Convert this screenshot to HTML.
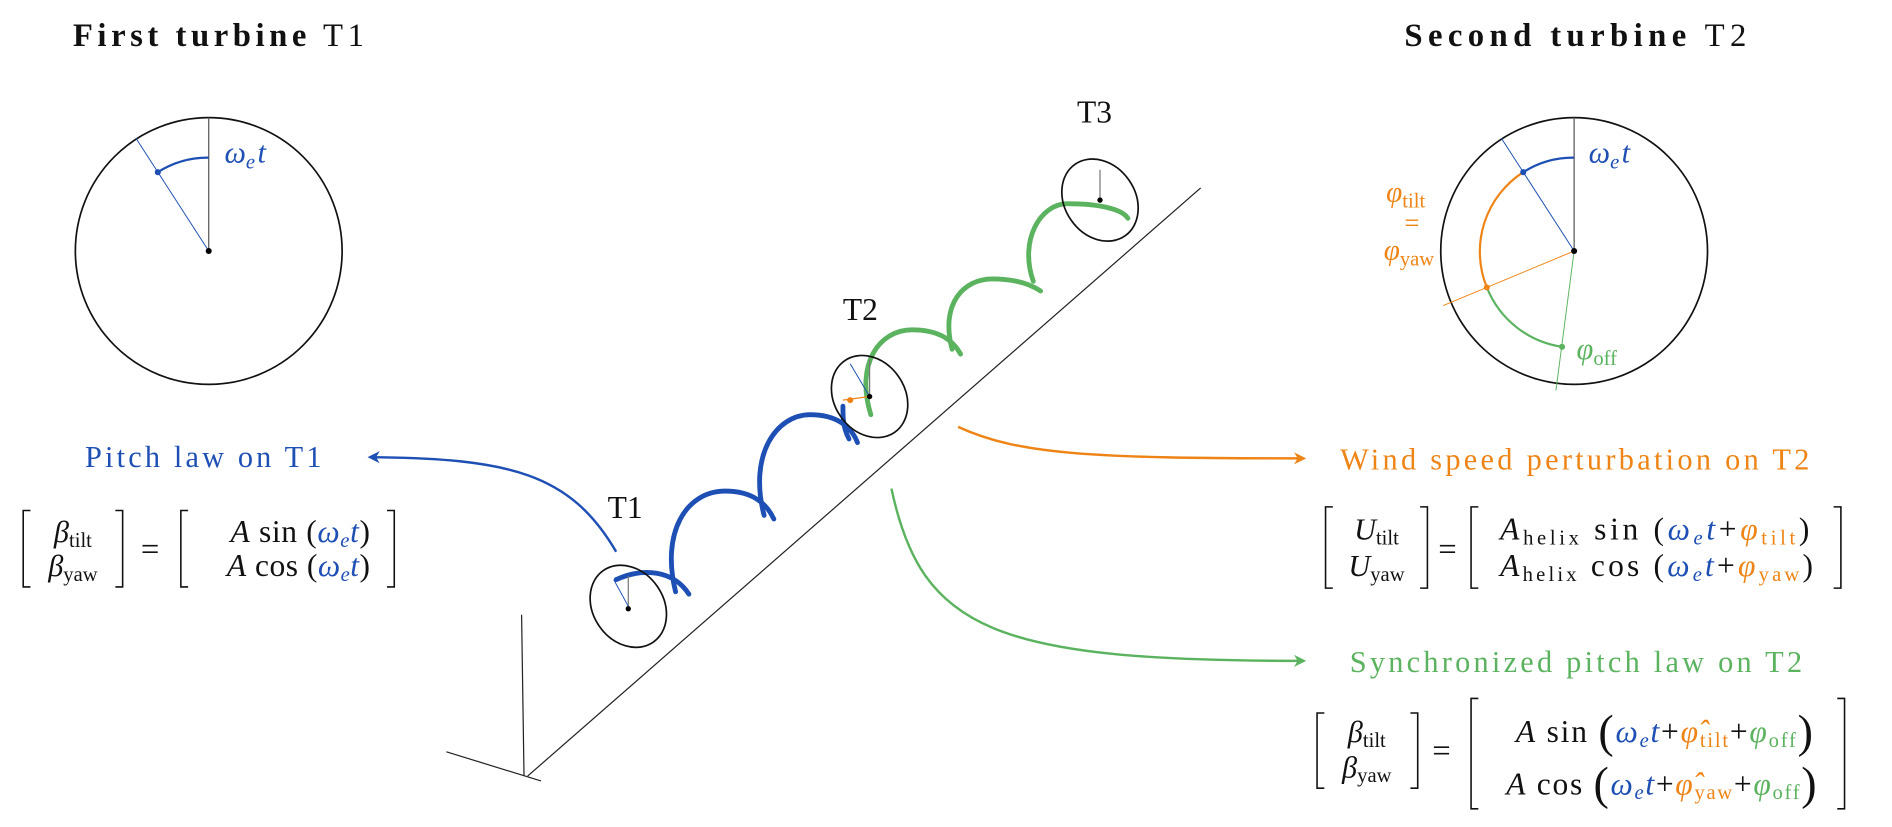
<!DOCTYPE html>
<html><head><meta charset="utf-8"><style>
html,body{margin:0;padding:0;background:#fff;}
svg{display:block;}
text{font-family:"Liberation Serif",serif;}
.b{fill:#1e4fb4}.o{fill:#ef8416}.g{fill:#5bb35f}.k{fill:#111}
.i{font-style:italic}
</style></head><body>
<svg width="1892" height="827" viewBox="0 0 1560 682" xmlns="http://www.w3.org/2000/svg">
<defs>
<marker id="ab" markerWidth="10" markerHeight="10" refX="8" refY="5" orient="auto" markerUnits="userSpaceOnUse"><path d="M0,0 L10,5 L0,10 L3,5z" fill="#1e4fb4"/></marker>
<marker id="ao" markerWidth="10" markerHeight="10" refX="8" refY="5" orient="auto" markerUnits="userSpaceOnUse"><path d="M0,0 L10,5 L0,10 L3,5z" fill="#ef8416"/></marker>
<marker id="ag" markerWidth="10" markerHeight="10" refX="8" refY="5" orient="auto" markerUnits="userSpaceOnUse"><path d="M0,0 L10,5 L0,10 L3,5z" fill="#5bb35f"/></marker>
</defs>

<!-- Titles -->
<text x="60" y="38" font-size="27" class="k" textLength="240" lengthAdjust="spacing"><tspan font-weight="bold">First turbine</tspan> T1</text>
<text x="1158" y="38" font-size="27" class="k" textLength="282" lengthAdjust="spacing"><tspan font-weight="bold">Second turbine</tspan> T2</text>

<!-- T1 circle -->
<circle cx="172" cy="207" r="110" fill="none" stroke="#111" stroke-width="1.4"/>
<line x1="172" y1="207" x2="172" y2="97" stroke="#555" stroke-width="1"/>
<line x1="172" y1="207" x2="112" y2="114" stroke="#1e4fb4" stroke-width="0.8"/>
<path d="M172,130 A77,77 0 0 0 130,142" fill="none" stroke="#1e4fb4" stroke-width="1.8"/>
<circle cx="130" cy="142" r="2.5" fill="#1e4fb4"/>
<circle cx="172" cy="207" r="2.5" fill="#000"/>
<text x="185" y="134" font-size="25" class="b i">ω<tspan font-size="17" dy="5">e</tspan><tspan dy="-5" dx="2">t</tspan></text>

<!-- T2 circle -->
<circle cx="1298" cy="207" r="110" fill="none" stroke="#111" stroke-width="1.4"/>
<line x1="1298" y1="207" x2="1298" y2="97" stroke="#555" stroke-width="1"/>
<line x1="1298" y1="207" x2="1238" y2="114" stroke="#1e4fb4" stroke-width="0.8"/>
<line x1="1298" y1="207" x2="1190" y2="252" stroke="#ef8416" stroke-width="0.8"/>
<line x1="1298" y1="207" x2="1283" y2="322" stroke="#5bb35f" stroke-width="0.8"/>
<path d="M1298,130 A77,77 0 0 0 1256,142" fill="none" stroke="#1e4fb4" stroke-width="1.8"/>
<path d="M1256,142 A78,78 0 0 0 1226,237" fill="none" stroke="#ef8416" stroke-width="1.8"/>
<path d="M1226,237 A79,79 0 0 0 1288,286" fill="none" stroke="#5bb35f" stroke-width="1.8"/>
<circle cx="1256" cy="142" r="2.5" fill="#1e4fb4"/>
<circle cx="1226" cy="237" r="2.5" fill="#ef8416"/>
<circle cx="1288" cy="286" r="2.5" fill="#5bb35f"/>
<circle cx="1298" cy="207" r="2.5" fill="#000"/>
<text x="1310" y="134" font-size="25" class="b i">ω<tspan font-size="17" dy="5">e</tspan><tspan dy="-5" dx="2">t</tspan></text>
<text x="1300" y="296" font-size="25" class="g"><tspan class="i">φ</tspan><tspan font-size="17" dy="5">off</tspan></text>
<text x="1143" y="166" font-size="24" class="o"><tspan class="i">φ</tspan><tspan font-size="17" dy="5">tilt</tspan></text>
<text x="1158" y="191" font-size="22" class="o">=</text>
<text x="1141" y="214" font-size="24" class="o"><tspan class="i">φ</tspan><tspan font-size="17" dy="5">yaw</tspan></text>

<!-- ground, tower, rotor line -->
<line x1="368" y1="620" x2="446" y2="644" stroke="#222" stroke-width="1"/>
<line x1="432" y1="640" x2="430" y2="507" stroke="#222" stroke-width="1"/>
<line x1="435" y1="640" x2="990" y2="155" stroke="#222" stroke-width="1"/>

<!-- helix blue -->
<g fill="none" stroke="#1e4fb4" stroke-width="4" stroke-linecap="round">
<path d="M508,478 C530,468 555,470 568,490"/>
<path d="M557,488 C545,440 565,405 598,405 C620,405 632,415 638,428"/>
<path d="M630,425 C617,375 640,342 668,342 C690,342 702,352 707,365"/>
<path d="M700,362 C695,352 695,345 695,335"/>
</g>
<!-- helix green -->
<g fill="none" stroke="#5bb35f" stroke-width="4" stroke-linecap="round">
<path d="M718,342 C705,300 725,272 752,272 C775,272 786,281 792,292"/>
<path d="M785,288 C775,250 795,230 818,230 C840,230 852,236 858,240"/>
<path d="M852,232 C840,198 858,168 880,168 C905,168 925,172 930,180"/>
</g>

<!-- turbine ellipses -->
<g fill="none" stroke="#111" stroke-width="1.4">
<ellipse cx="518" cy="500" rx="36" ry="29" transform="rotate(55 518 500)"/>
<ellipse cx="717" cy="327" rx="36" ry="29" transform="rotate(55 717 327)"/>
<ellipse cx="907" cy="165" rx="36" ry="29" transform="rotate(55 907 165)"/>
</g>
<line x1="518" y1="500" x2="518" y2="475" stroke="#777" stroke-width="1"/>
<line x1="518" y1="500" x2="506" y2="478" stroke="#1e4fb4" stroke-width="0.8"/>
<circle cx="518" cy="502" r="2.2" fill="#000"/>
<line x1="717" y1="327" x2="717" y2="297" stroke="#777" stroke-width="1"/>
<line x1="717" y1="327" x2="701" y2="300" stroke="#1e4fb4" stroke-width="0.8"/>
<line x1="717" y1="327" x2="695" y2="330" stroke="#ef8416" stroke-width="1"/>
<circle cx="701" cy="330" r="2.5" fill="#ef8416"/>
<circle cx="717" cy="327" r="2.2" fill="#000"/>
<line x1="907" y1="165" x2="907" y2="140" stroke="#777" stroke-width="1"/>
<circle cx="907" cy="165" r="2.2" fill="#000"/>

<text x="501" y="427" font-size="26" class="k">T1</text>
<text x="695" y="264" font-size="26" class="k">T2</text>
<text x="888" y="101" font-size="26" class="k">T3</text>

<!-- arrows -->
<path d="M508,455 C470,390 420,378 305,377" fill="none" stroke="#1e4fb4" stroke-width="2" marker-end="url(#ab)"/>
<path d="M790,352 C840,375 900,378 1075,378" fill="none" stroke="#ef8416" stroke-width="2" marker-end="url(#ao)"/>
<path d="M735,403 C760,520 820,545 1075,545" fill="none" stroke="#5bb35f" stroke-width="2" marker-end="url(#ag)"/>

<!-- labels -->
<text x="70" y="385" font-size="25" class="b" textLength="195" lengthAdjust="spacing">Pitch law on T1</text>
<text x="1105" y="387" font-size="25" class="o" textLength="387" lengthAdjust="spacing">Wind speed perturbation on T2</text>
<text x="1113" y="554" font-size="25" class="g" textLength="373" lengthAdjust="spacing">Synchronized pitch law on T2</text>

<!-- left equation -->
<g fill="none" stroke="#111" stroke-width="1.3">
<path d="M25,421 H19 V484 H25"/><path d="M95,421 H101 V484 H95"/>
<path d="M155,421 H149 V484 H155"/><path d="M319,421 H325 V484 H319"/>
</g>
<text x="60" y="447" font-size="25" class="k" text-anchor="middle"><tspan class="i">β</tspan><tspan font-size="17" dy="4">tilt</tspan></text>
<text x="60" y="475" font-size="25" class="k" text-anchor="middle"><tspan class="i">β</tspan><tspan font-size="17" dy="4">yaw</tspan></text>
<text x="116" y="462" font-size="27" class="k">=</text>
<text x="190" y="447" font-size="26" class="k" textLength="115" lengthAdjust="spacing"><tspan class="i">A</tspan> sin (<tspan class="b i">ω</tspan><tspan class="b i" font-size="17" dy="4">e</tspan><tspan class="b i" dy="-4">t</tspan>)</text>
<text x="187" y="475" font-size="26" class="k" textLength="118" lengthAdjust="spacing"><tspan class="i">A</tspan> cos (<tspan class="b i">ω</tspan><tspan class="b i" font-size="17" dy="4">e</tspan><tspan class="b i" dy="-4">t</tspan>)</text>

<!-- wind equation -->
<g fill="none" stroke="#111" stroke-width="1.3">
<path d="M1099,418 H1093 V485 H1099"/><path d="M1171,418 H1177 V485 H1171"/>
<path d="M1219,418 H1213 V485 H1219"/><path d="M1512,418 H1518 V485 H1512"/>
</g>
<text x="1135" y="445" font-size="25" class="k" text-anchor="middle"><tspan class="i">U</tspan><tspan font-size="17" dy="4">tilt</tspan></text>
<text x="1135" y="475" font-size="25" class="k" text-anchor="middle"><tspan class="i">U</tspan><tspan font-size="17" dy="4">yaw</tspan></text>
<text x="1186" y="462" font-size="27" class="k">=</text>
<text x="1237" y="445" font-size="26" class="k" textLength="255" lengthAdjust="spacing"><tspan class="i">A</tspan><tspan font-size="17" dy="4">helix</tspan><tspan dy="-4"> sin (</tspan><tspan class="b i">ω</tspan><tspan class="b i" font-size="17" dy="4">e</tspan><tspan class="b i" dy="-4">t</tspan>+<tspan class="o i">φ</tspan><tspan class="o" font-size="17" dy="4">tilt</tspan><tspan dy="-4">)</tspan></text>
<text x="1237" y="475" font-size="26" class="k" textLength="258" lengthAdjust="spacing"><tspan class="i">A</tspan><tspan font-size="17" dy="4">helix</tspan><tspan dy="-4"> cos (</tspan><tspan class="b i">ω</tspan><tspan class="b i" font-size="17" dy="4">e</tspan><tspan class="b i" dy="-4">t</tspan>+<tspan class="o i">φ</tspan><tspan class="o" font-size="17" dy="4">yaw</tspan><tspan dy="-4">)</tspan></text>

<!-- sync equation -->
<g fill="none" stroke="#111" stroke-width="1.3">
<path d="M1092,588 H1086 V650 H1092"/><path d="M1163,588 H1169 V650 H1163"/>
<path d="M1219,576 H1213 V667 H1219"/><path d="M1515,576 H1521 V667 H1515"/>
</g>
<text x="1127" y="612" font-size="25" class="k" text-anchor="middle"><tspan class="i">β</tspan><tspan font-size="17" dy="4">tilt</tspan></text>
<text x="1127" y="641" font-size="25" class="k" text-anchor="middle"><tspan class="i">β</tspan><tspan font-size="17" dy="4">yaw</tspan></text>
<text x="1181" y="628" font-size="27" class="k">=</text>
<text x="1250" y="612" font-size="26" class="k" textLength="245" lengthAdjust="spacing"><tspan class="i">A</tspan> sin <tspan font-size="38" dy="4">(</tspan><tspan class="b i" dy="-4">ω</tspan><tspan class="b i" font-size="17" dy="4">e</tspan><tspan class="b i" dy="-4">t</tspan>+<tspan class="o i">φ̂</tspan><tspan class="o" font-size="17" dy="4">tilt</tspan><tspan dy="-4">+</tspan><tspan class="g i">φ</tspan><tspan class="g" font-size="17" dy="4">off</tspan><tspan font-size="38">)</tspan></text>
<text x="1242" y="655" font-size="26" class="k" textLength="256" lengthAdjust="spacing"><tspan class="i">A</tspan> cos <tspan font-size="38" dy="4">(</tspan><tspan class="b i" dy="-4">ω</tspan><tspan class="b i" font-size="17" dy="4">e</tspan><tspan class="b i" dy="-4">t</tspan>+<tspan class="o i">φ̂</tspan><tspan class="o" font-size="17" dy="4">yaw</tspan><tspan dy="-4">+</tspan><tspan class="g i">φ</tspan><tspan class="g" font-size="17" dy="4">off</tspan><tspan font-size="38">)</tspan></text>
</svg>
</body></html>
